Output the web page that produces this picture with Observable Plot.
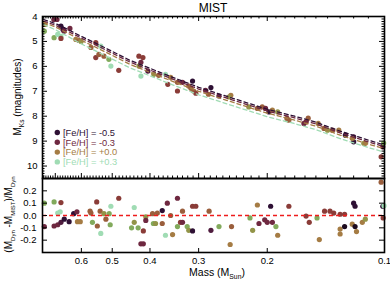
<!DOCTYPE html>
<html>
<head>
<meta charset="utf-8">
<script src="https://cdn.jsdelivr.net/npm/d3@7"></script>
<script src="https://cdn.jsdelivr.net/npm/@observablehq/plot@0.6"></script>
<style>
  html, body { margin: 0; padding: 0; background: #fff; }
  #wrap { position: relative; width: 390px; height: 293px; font-family: 'Liberation Sans', Arial, sans-serif; }
  #wrap svg { display: block; }
  #overlay { position: absolute; left: 0; top: 0; pointer-events: none; }
</style>
</head>
<body>
<div id="wrap"></div>
<script>
// ---- Stars (top panel): mass (Msun), absolute Ks magnitude, [Fe/H]
const starMass = [0.706,0.693,0.677,0.669,0.665,0.642,0.744,0.747,0.705,0.690,0.677,0.677,0.620,0.609,0.601,0.551,0.567,0.535,0.551,0.541,0.525,0.510,0.504,0.481,0.427,0.417,0.422,0.427,0.405,0.422,0.391,0.380,0.365,0.354,0.360,0.340,0.330,0.311,0.318,0.340,0.309,0.279,0.283,0.266,0.314,0.305,0.288,0.248,0.251,0.223,0.212,0.206,0.202,0.198,0.194,0.188,0.178,0.157,0.176,0.159,0.161,0.148,0.143,0.140,0.136,0.131,0.126,0.120,0.120,0.121,0.113,0.112,0.101,0.102,0.1005];
const starMk   = [4.12,4.12,4.39,4.52,4.59,4.48,4.32,4.59,4.85,4.72,4.80,4.88,4.92,4.96,5.00,5.05,5.24,5.19,5.65,5.52,5.59,5.72,5.99,6.16,5.59,5.65,5.84,5.99,6.19,6.39,6.32,6.36,6.32,6.44,6.72,6.64,6.64,6.59,6.79,6.99,6.99,6.85,7.12,7.19,6.88,7.08,6.96,7.16,7.23,7.63,7.69,7.63,7.69,7.83,7.76,7.83,8.09,8.08,8.16,8.23,8.29,8.29,8.49,8.56,8.56,8.56,8.76,8.83,9.03,8.89,9.09,9.09,9.23,9.63,9.08];
const starFeh  = [-0.3,-0.3,-0.5,-0.5,-0.3,-0.3,0.0,0.2,0.2,0.3,0.3,-0.2,0.0,-0.1,0.1,-0.2,-0.1,0.3,-0.2,-0.1,-0.1,0.2,0.3,-0.2,-0.2,-0.2,-0.3,0.1,-0.4,0.3,0.1,-0.1,0.3,0.0,-0.2,-0.1,-0.3,-0.5,-0.1,-0.2,-0.1,-0.5,-0.1,-0.4,-0.1,-0.2,-0.3,0.0,0.1,0.1,-0.1,-0.1,-0.3,-0.5,0.0,0.1,-0.1,-0.1,-0.1,-0.2,-0.3,0.0,-0.1,0.1,-0.1,0.0,-0.5,-0.4,-0.5,0.0,0.1,0.0,-0.3,-0.2,0.2];

// ---- Residuals (bottom panel): mass, (Mdyn - Mmist)/Mdyn, [Fe/H]
const resMass  = [0.747,0.705,0.677,0.747,0.705,0.690,0.677,0.664,0.690,0.680,0.645,0.628,0.616,0.614,0.604,0.570,0.567,0.562,0.548,0.546,0.537,0.535,0.525,0.519,0.509,0.504,0.506,0.481,0.446,0.439,0.429,0.439,0.422,0.416,0.416,0.410,0.410,0.392,0.387,0.394,0.383,0.372,0.372,0.361,0.354,0.365,0.350,0.340,0.334,0.330,0.330,0.340,0.321,0.318,0.311,0.311,0.305,0.282,0.279,0.266,0.249,0.247,0.2215,0.218,0.212,0.210,0.203,0.200,0.196,0.194,0.190,0.188,0.176,0.159,0.156,0.149,0.147,0.1425,0.138,0.135,0.130,0.130,0.130,0.1266,0.1266,0.121,0.120,0.119,0.119,0.118,0.114,0.112,0.101,0.1008,0.102,0.1003];
const resDelta = [0.10,0.11,0.105,-0.09,-0.085,-0.075,-0.055,-0.03,0.02,0.03,-0.05,0.015,0.03,-0.05,-0.05,0.035,0.02,-0.055,0.11,-0.085,0.035,-0.145,0.015,-0.03,0.015,0.075,-0.075,0.14,-0.10,-0.055,-0.10,0.065,-0.23,-0.23,-0.125,-0.01,-0.04,-0.065,-0.065,0.015,0.02,0.04,-0.065,0.10,0.0,-0.16,-0.155,-0.09,-0.055,-0.055,0.035,0.14,-0.09,-0.12,-0.125,0.075,0.075,0.035,-0.12,-0.09,-0.235,-0.09,-0.02,-0.12,0.085,-0.065,-0.035,-0.055,0.075,-0.055,-0.09,-0.16,0.075,-0.005,-0.055,-0.02,-0.195,0.035,0.035,0.02,0.01,-0.11,-0.15,-0.09,0.01,-0.07,0.10,0.075,-0.09,-0.13,-0.055,-0.03,0.075,-0.02,0.27,0.08];
const resFeh   = [0.2,0.2,-0.2,-0.3,-0.3,-0.3,-0.4,-0.5,0.3,0.3,-0.5,-0.5,-0.3,0.0,0.0,-0.1,-0.1,0.2,-0.2,-0.1,-0.1,0.3,0.1,-0.1,0.2,0.3,0.2,-0.2,0.2,0.1,0.2,0.3,-0.3,-0.3,-0.2,0.1,-0.3,0.2,0.1,-0.1,-0.1,-0.5,-0.1,-0.3,-0.1,0.3,0.0,0.2,-0.2,-0.3,-0.1,-0.3,0.2,0.1,-0.5,-0.2,-0.2,-0.1,-0.4,0.2,0.0,-0.1,0.2,0.1,0.0,-0.3,-0.3,-0.3,-0.5,-0.3,0.2,0.0,-0.2,-0.2,-0.2,0.2,0.0,-0.2,-0.2,-0.2,-0.2,0.0,0.0,-0.6,-0.2,0.0,-0.5,-0.5,-0.6,0.0,0.0,0.1,-0.5,-0.2,-0.1,0.3];

// ---- MIST model tracks
const modelMass = [0.75,0.70,0.65,0.60,0.55,0.50,0.45,0.40,0.35,0.30,0.25,0.20,0.17,0.15,0.13,0.11,0.10];
const modelMkM05 = [4.12,4.28,4.52,4.80,5.08,5.40,5.76,6.08,6.44,6.84,7.24,7.72,8.00,8.24,8.60,8.96,9.16];
const modelMkM03 = [4.18,4.35,4.59,4.87,5.15,5.47,5.83,6.15,6.51,6.91,7.31,7.79,8.07,8.31,8.67,9.03,9.23];
const modelMkP00 = [4.24,4.42,4.67,4.96,5.24,5.56,5.92,6.24,6.60,7.00,7.40,7.88,8.16,8.40,8.76,9.12,9.31];
const modelMkP03 = [4.32,4.53,4.80,5.10,5.39,5.71,6.06,6.38,6.74,7.14,7.54,8.02,8.30,8.54,8.90,9.26,9.44];

// ---- Legend & ticks
const legendFeh = [-0.5, -0.3, 0.0, 0.3];
const legendLabels = ["[Fe/H] = -0.5", "[Fe/H] = -0.3", "[Fe/H] = +0.0", "[Fe/H] = +0.3"];
const massTickLabels = [0.6, 0.5, 0.4, 0.3, 0.2, 0.1];
const mkTickLabels = [4, 5, 6, 7, 8, 9, 10];
const resTickLabels = [-0.2, -0.1, 0.0, 0.1, 0.2];

// colour map for [Fe/H]
const fehDomain = [-0.6,-0.5,-0.4,-0.3,-0.2,-0.1,0.0,0.1,0.2,0.3];
const fehRange  = ["#1c0a1e","#2e1034","#4f1c3e","#6e2840","#8a3c38","#9a5e3c","#a57c44","#929448","#82aa5c","#a0dcb4"];
const fehColor = d3.scaleLinear().domain(fehDomain).range(fehRange).interpolate(d3.interpolateRgb);

const stars = starMass.map((m, i) => ({m, mk: starMk[i], feh: starFeh[i]}));
const resid = resMass.map((m, i) => ({m, r: resDelta[i], feh: resFeh[i]}));
const tracks = [
  {feh: 0.3, mk: modelMkP03},
  {feh: 0.0, mk: modelMkP00},
  {feh: -0.3, mk: modelMkM03},
  {feh: -0.5, mk: modelMkM05}
].flatMap(t => modelMass.map((m, i) => ({m, mk: t.mk[i], feh: t.feh})));

const W = 390, ML = 42, MR = 6;
const topH = 178, topMT = 16, topInner = topH - topMT;
const botH = 115, botMB = 41, botInner = botH - botMB;
const innerW = W - ML - MR;
const xDomain = [0.755, 0.1];
const font = "'Liberation Sans', Arial, sans-serif";

const xMajor = [0.1,0.2,0.3,0.4,0.5,0.6,0.7];
const xMinor = d3.range(11, 76).map(v => v / 100).filter(v => !xMajor.some(M => Math.abs(M - v) < 1e-9));
const yMinor = d3.range(40, 106).map(v => v / 10).filter(v => Math.abs(v - Math.round(v)) > 1e-9);

const plotStyle = {fontFamily: font, fontSize: "9.2px", color: "black", background: "transparent", overflow: "visible"};

const topPlot = Plot.plot({
  width: W, height: topH,
  marginLeft: ML, marginRight: MR, marginTop: topMT, marginBottom: 0,
  style: plotStyle,
  x: {type: "log", domain: xDomain, axis: null},
  y: {domain: [4, 10.5], reverse: true},
  marks: [
    Plot.dot(stars, {x: "m", y: "mk", r: 2.6, fill: d => fehColor(d.feh), stroke: "none"}),
    ...[0.3, 0.0, -0.3, -0.5].map(f =>
      Plot.line(tracks.filter(d => d.feh === f), {x: "m", y: "mk", stroke: fehColor(f), strokeWidth: 1.3, strokeDasharray: "4,3"})
    ),
    Plot.tickX(xMinor, {x: d => d, insetBottom: topInner - 2.5, stroke: "black"}),
    Plot.tickX(xMinor, {x: d => d, insetTop: topInner - 2.5, stroke: "black"}),
    Plot.tickX(xMajor, {x: d => d, insetBottom: topInner - 5, stroke: "black"}),
    Plot.tickX(xMajor, {x: d => d, insetTop: topInner - 5, stroke: "black"}),
    Plot.tickY(yMinor, {y: d => d, insetRight: innerW - 2.5, stroke: "black"}),
    Plot.tickY(yMinor, {y: d => d, insetLeft: innerW - 2.5, stroke: "black"}),
    Plot.tickY(mkTickLabels, {y: d => d, insetRight: innerW - 5, stroke: "black"}),
    Plot.tickY(mkTickLabels, {y: d => d, insetLeft: innerW - 5, stroke: "black"}),
    Plot.axisY({ticks: mkTickLabels, tickFormat: d => String(d), tickSize: 0, tickPadding: 5, label: null, fontSize: 9.5}),
    Plot.frame({stroke: "black", strokeWidth: 1.6})
  ]
});

const bottomPlot = Plot.plot({
  width: W, height: botH,
  marginLeft: ML, marginRight: MR, marginTop: 0, marginBottom: botMB,
  style: plotStyle,
  x: {type: "log", domain: xDomain},
  y: {domain: [-0.3, 0.3]},
  marks: [
    Plot.dot(resid, {x: "m", y: "r", r: 2.6, fill: d => fehColor(d.feh), stroke: "none"}),
    Plot.ruleY([0], {stroke: "#ee1c1c", strokeWidth: 1.4, strokeDasharray: "4,3"}),
    Plot.tickX(massTickLabels, {x: d => d, insetTop: botInner - 4, stroke: "black"}),
    Plot.tickY(resTickLabels, {y: d => d, insetRight: innerW - 5, stroke: "black"}),
    Plot.tickY(resTickLabels, {y: d => d, insetLeft: innerW - 5, stroke: "black"}),
    Plot.axisX({ticks: massTickLabels, tickFormat: d => d.toFixed(1), tickSize: 0, tickPadding: 5, label: null, fontSize: 9.5}),
    Plot.axisY({ticks: resTickLabels, tickFormat: d => d.toFixed(1), tickSize: 0, tickPadding: 6, label: null, fontSize: 9.5}),
    Plot.frame({stroke: "black", strokeWidth: 1.6})
  ]
});

const wrap = document.getElementById("wrap");
wrap.appendChild(topPlot);
wrap.appendChild(bottomPlot);

// ---- overlay: title, axis titles, legend
const ov = d3.select(wrap).append("svg").attr("id", "overlay").attr("width", W).attr("height", 293)
  .attr("font-family", font);

ov.append("text").attr("x", 213).attr("y", 12).attr("text-anchor", "middle").attr("font-size", 12).text("MIST");

const t1 = ov.append("text").attr("transform", "translate(21,97) rotate(-90)").attr("text-anchor", "middle").attr("font-size", 10);
t1.append("tspan").text("M");
t1.append("tspan").attr("font-size", 6.5).attr("dy", 2.5).text("Ks");
t1.append("tspan").attr("dy", -2.5).text(" (magnitudes)");

const t2 = ov.append("text").attr("transform", "translate(12,214.5) rotate(-90)").attr("text-anchor", "middle").attr("font-size", 10);
t2.append("tspan").text("(M");
t2.append("tspan").attr("font-size", 6).attr("dy", 2.5).text("Dyn");
t2.append("tspan").attr("dy", -2.5).text(" -M");
t2.append("tspan").attr("font-size", 6).attr("dy", 2.5).text("MIST");
t2.append("tspan").attr("dy", -2.5).text(")/M");
t2.append("tspan").attr("font-size", 6).attr("dy", 2.5).text("Dyn");

const t3 = ov.append("text").attr("x", 217).attr("y", 276).attr("text-anchor", "middle").attr("font-size", 10.5);
t3.append("tspan").text("Mass (M");
t3.append("tspan").attr("font-size", 6.8).attr("dy", 2.5).text("Sun");
t3.append("tspan").attr("dy", -2.5).text(")");

const lg = ov.append("g");
legendFeh.forEach((f, i) => {
  const y = 132.5 + i * 9.8;
  lg.append("circle").attr("cx", 57.3).attr("cy", y).attr("r", 2.7).attr("fill", fehColor(f));
  lg.append("text").attr("x", 63).attr("y", y + 3.3).attr("font-size", 9.3).attr("fill", fehColor(f)).text(legendLabels[i]);
});
</script>
</body>
</html>
